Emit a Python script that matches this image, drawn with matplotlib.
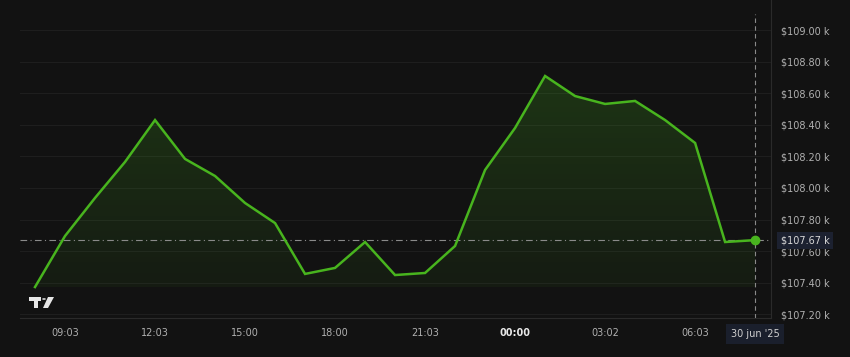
import numpy as np
import matplotlib.pyplot as plt
from matplotlib.patches import Polygon, Circle

# hourly BTC prices (k$), 29 jun 08:03 -> 30 jun 08:03
hours = list(range(25))
prices = [107.373, 107.696, 107.937, 108.165, 108.430, 108.184, 108.076, 107.905,
          107.778, 107.456, 107.494, 107.658, 107.449, 107.462, 107.633, 108.114,
          108.380, 108.709, 108.582, 108.532, 108.551, 108.430, 108.285, 107.658,
          107.670]
last_price = 107.67
ytick_vals = [107.20, 107.40, 107.60, 107.80, 108.00, 108.20, 108.40, 108.60, 108.80, 109.00]
xtick_pos = [1, 4, 7, 10, 13, 16, 19, 22]
xtick_labels = ["09:03", "12:03", "15:00", "18:00", "21:03", "00:00", "03:02", "06:03"]

bg = "#121212"
green = "#48b41e"
txt = "#b0b0b0"

fig = plt.figure(figsize=(8.5, 3.57), dpi=100, facecolor=bg)
ax = fig.add_axes([20 / 850, 1 - 318 / 357, 751 / 850, 318 / 357])
ax.set_facecolor(bg)

x = np.array(hours, dtype=float)
y = np.array(prices)
ax.set_xlim(-0.5, 24.53)
ax.set_ylim(107.177, 109.19)

# grid
for v in ytick_vals:
    ax.axhline(v, color="#1e1e1e", lw=0.8, zorder=0)

# gradient fill under the line
base = y.min()
grad = np.linspace(0.22, 0.06, 256).reshape(-1, 1)
cmap_img = np.zeros((256, 1, 4))
cmap_img[..., 0] = 0.28
cmap_img[..., 1] = 0.70
cmap_img[..., 2] = 0.12
cmap_img[..., 3] = grad
im = ax.imshow(cmap_img, aspect="auto", extent=[x[0], x[-1], base, y.max()],
               origin="upper", zorder=1)
poly = Polygon(np.vstack([np.column_stack([x, y]), [[x[-1], base], [x[0], base]]]),
               closed=True, facecolor="none", edgecolor="none")
ax.add_patch(poly)
im.set_clip_path(poly)

ax.plot(x, y, color=green, lw=1.8, zorder=3, solid_joinstyle="miter")
ax.plot([x[-1]], [y[-1]], "o", color=green, ms=6, zorder=4)

# crosshair lines
ax.axhline(last_price, color="#8a8a8a", lw=0.8, ls=(0, (6, 3, 1, 3)), zorder=2)
ax.plot([x[-1], x[-1]], [107.177, 109.10], color="#8a8a8a", lw=0.8, ls=(0, (4, 3)), zorder=2)

# axes styling
for s in ["top", "left"]:
    ax.spines[s].set_visible(False)
ax.spines["bottom"].set_color("#2a2a2a")
ax.spines["right"].set_color("#2a2a2a")
ax.spines["bottom"].set_linewidth(0.8)
ax.spines["right"].set_linewidth(0.8)

ax.yaxis.tick_right()
ax.set_yticks(ytick_vals)
ax.set_yticklabels(["$%.2f k" % v for v in ytick_vals])
ax.tick_params(axis="y", length=0, pad=7, labelsize=7, labelcolor=txt)
ax.set_xticks(xtick_pos)
ax.set_xticklabels(xtick_labels)
ax.tick_params(axis="x", length=0, pad=7, labelsize=7, labelcolor=txt)
for lbl in ax.get_xticklabels():
    if lbl.get_text() == "00:00":
        lbl.set_fontweight("bold")
        lbl.set_color("#e8e8e8")

# price label box
ax.text(1.013, last_price, "$107.67 k", transform=ax.get_yaxis_transform(),
        ha="left", va="center", fontsize=7, color="#d8d8d8", zorder=6,
        bbox=dict(boxstyle="square,pad=0.35", facecolor="#1c2130", edgecolor="none"))
# date label box
ax.text(x[-1], -0.035, "30 jun '25", transform=ax.get_xaxis_transform(),
        ha="center", va="top", fontsize=7, color="#d0d0d0", zorder=6,
        bbox=dict(boxstyle="square,pad=0.5", facecolor="#1a1f2c", edgecolor="none"))

# TradingView logo (figure pixels)
def px(xp, yp):
    return (xp / 850, 1 - yp / 357)
logo_c = "#e6e6e6"
fig.patches.append(Polygon([px(29, 297), px(41, 297), px(41, 301), px(38, 301), px(38, 308),
                            px(34, 308), px(34, 301), px(29, 301)], closed=True,
                           transform=fig.transFigure, facecolor=logo_c, edgecolor="none"))
fig.patches.append(Circle(px(44, 299), 1.9 / 850, transform=fig.transFigure,
                          facecolor=logo_c, edgecolor="none"))
fig.patches.append(Polygon([px(48, 297), px(54, 297), px(48, 308), px(43, 308)], closed=True,
                           transform=fig.transFigure, facecolor=logo_c, edgecolor="none"))

fig.savefig("out.png", dpi=100, facecolor=bg)
